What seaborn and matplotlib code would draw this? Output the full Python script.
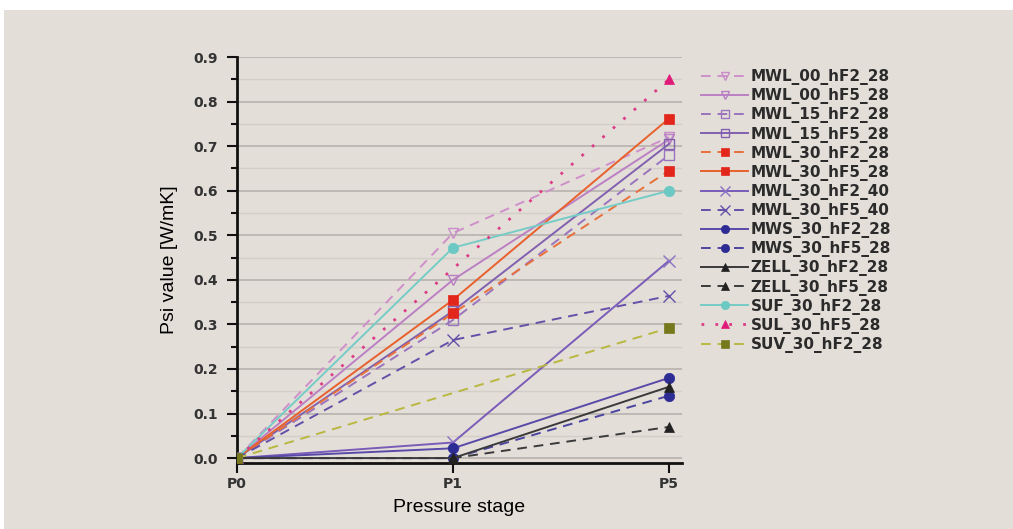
import matplotlib
matplotlib.use("Agg")
import matplotlib.pyplot as plt
from matplotlib.patches import Rectangle
from matplotlib.ticker import MultipleLocator
import seaborn as sns

# Daten
stages = ["P0", "P1", "P5"]
names = ["MWL_00_hF2_28", "MWL_00_hF5_28", "MWL_15_hF2_28", "MWL_15_hF5_28",
         "MWL_30_hF2_28", "MWL_30_hF5_28", "MWL_30_hF2_40", "MWL_30_hF5_40",
         "MWS_30_hF2_28", "MWS_30_hF5_28", "ZELL_30_hF2_28", "ZELL_30_hF5_28",
         "SUF_30_hF2_28", "SUL_30_hF5_28", "SUV_30_hF2_28"]
p0_vals = [0.0] * 15
p1_vals = [0.505, 0.40, 0.31, 0.33, 0.325, 0.355, 0.035, 0.265,
           0.022, 0.0, 0.0, 0.0, 0.472, None, None]
p5_vals = [0.72, 0.715, 0.68, 0.705, 0.645, 0.762, 0.443, 0.364,
           0.18, 0.14, 0.16, 0.07, 0.60, 0.85, 0.292]

# Stil je Serie
line_colors = ["#cf8fca", "#bb80c4", "#9a74bd", "#8160b0", "#e8703a", "#e8602c",
               "#7a5cb8", "#6450a8", "#5a4aa8", "#4a44a0", "#3a3a3a", "#3a3a3a",
               "#76ccc6", "#dc3c86", "#b8b840"]
marker_colors = ["#c88cc8", "#b880c4", "#9a74bd", "#8160b0", "#e2261c", "#e2261c",
                 "#8a70c4", "#6450a8", "#2c2c94", "#2c2c94", "#222222", "#222222",
                 "#6cc8c2", "#e01a78", "#76781c"]
styles = ["--", "-", "--", "-", "--", "-", "-", "--", "-", "--", "-", "--", "-", ":", "--"]
markers = ["v", "v", "s", "s", "s", "s", "x", "x", "o", "o", "^", "^", "o", "^", "s"]
hollow = [True, True, True, True, False, False, False, False,
          False, False, False, False, False, False, False]

bg = "#e4ded9"
fig = plt.figure(figsize=(10.13, 5.29), dpi=100, facecolor="white")
fig.patches.append(Rectangle((4 / 1013, 0), 1, 1 - 10 / 529, transform=fig.transFigure,
                             facecolor=bg, edgecolor="none", zorder=-10))
ax = fig.add_axes([237 / 1013, 1 - 463 / 529, (682 - 237) / 1013, (463 - 57) / 529])
ax.set_facecolor(bg)

for i, name in enumerate(names):
    xs, ys = [], []
    for s, v in zip(stages, [p0_vals[i], p1_vals[i], p5_vals[i]]):
        if v is not None:
            xs.append(s)
            ys.append(v)
    ls = styles[i]
    if ls == "--":
        ls = (0, (5, 3.5))
    elif ls == ":":
        ls = (0, (1, 4))
    sns.lineplot(x=xs, y=ys, ax=ax, color=line_colors[i], linestyle=ls,
                 lw=2.0 if styles[i] == ":" else 1.4,
                 marker=markers[i], markersize=7.5 if markers[i] != "x" else 9,
                 markerfacecolor="none" if hollow[i] else marker_colors[i],
                 markeredgecolor=marker_colors[i],
                 markeredgewidth=1.0 if (hollow[i] or markers[i] == "x") else 0.5,
                 label=name, zorder=3)

ax.set_xlim(0, 2.06)
ax.set_ylim(-0.011, 0.9)
ax.yaxis.set_major_locator(MultipleLocator(0.1))
ax.yaxis.set_minor_locator(MultipleLocator(0.05))
ax.yaxis.set_major_formatter(matplotlib.ticker.FormatStrFormatter("%.1f"))
ax.grid(axis="y", which="major", color="#b8b2ae", lw=1.2, zorder=0)
ax.grid(axis="y", which="minor", color="#d4cec9", lw=1.0, zorder=0)
ax.grid(axis="x", visible=False)
ax.set_axisbelow(True)

for side in ["top", "right"]:
    ax.spines[side].set_visible(False)
for side in ["left", "bottom"]:
    ax.spines[side].set_linewidth(2.0)
    ax.spines[side].set_color("#111111")

ax.tick_params(axis="both", which="major", length=7.5, width=1.5, color="#111111",
               labelsize=10, labelcolor="#333333")
ax.tick_params(axis="y", which="major", pad=6)
ax.tick_params(axis="x", which="major", pad=2.5)
ax.tick_params(axis="y", which="minor", length=4, width=1.5, color="#111111")
for lab in ax.get_xticklabels() + ax.get_yticklabels():
    lab.set_fontfamily("DejaVu Sans")
    lab.set_fontweight("bold")

ax.set_ylabel("Psi value [W/mK]", fontsize=14, family="Liberation Sans", labelpad=11)
ax.set_xlabel("Pressure stage", fontsize=14, family="Liberation Sans", labelpad=6)

handles, labels = ax.get_legend_handles_labels()
leg = ax.legend(handles, labels, loc="upper left", bbox_to_anchor=(695 / 1013, 1 - 63 / 529),
                bbox_transform=fig.transFigure, frameon=False, handlelength=3.1,
                handletextpad=0.15, labelspacing=0.205, borderaxespad=0, markerscale=0.8,
                prop={"family": "DejaVu Sans", "weight": "bold", "size": 11})
for t in leg.get_texts():
    t.set_color("#2b2b2b")

fig.savefig("out.png", dpi=100, facecolor=fig.get_facecolor())
